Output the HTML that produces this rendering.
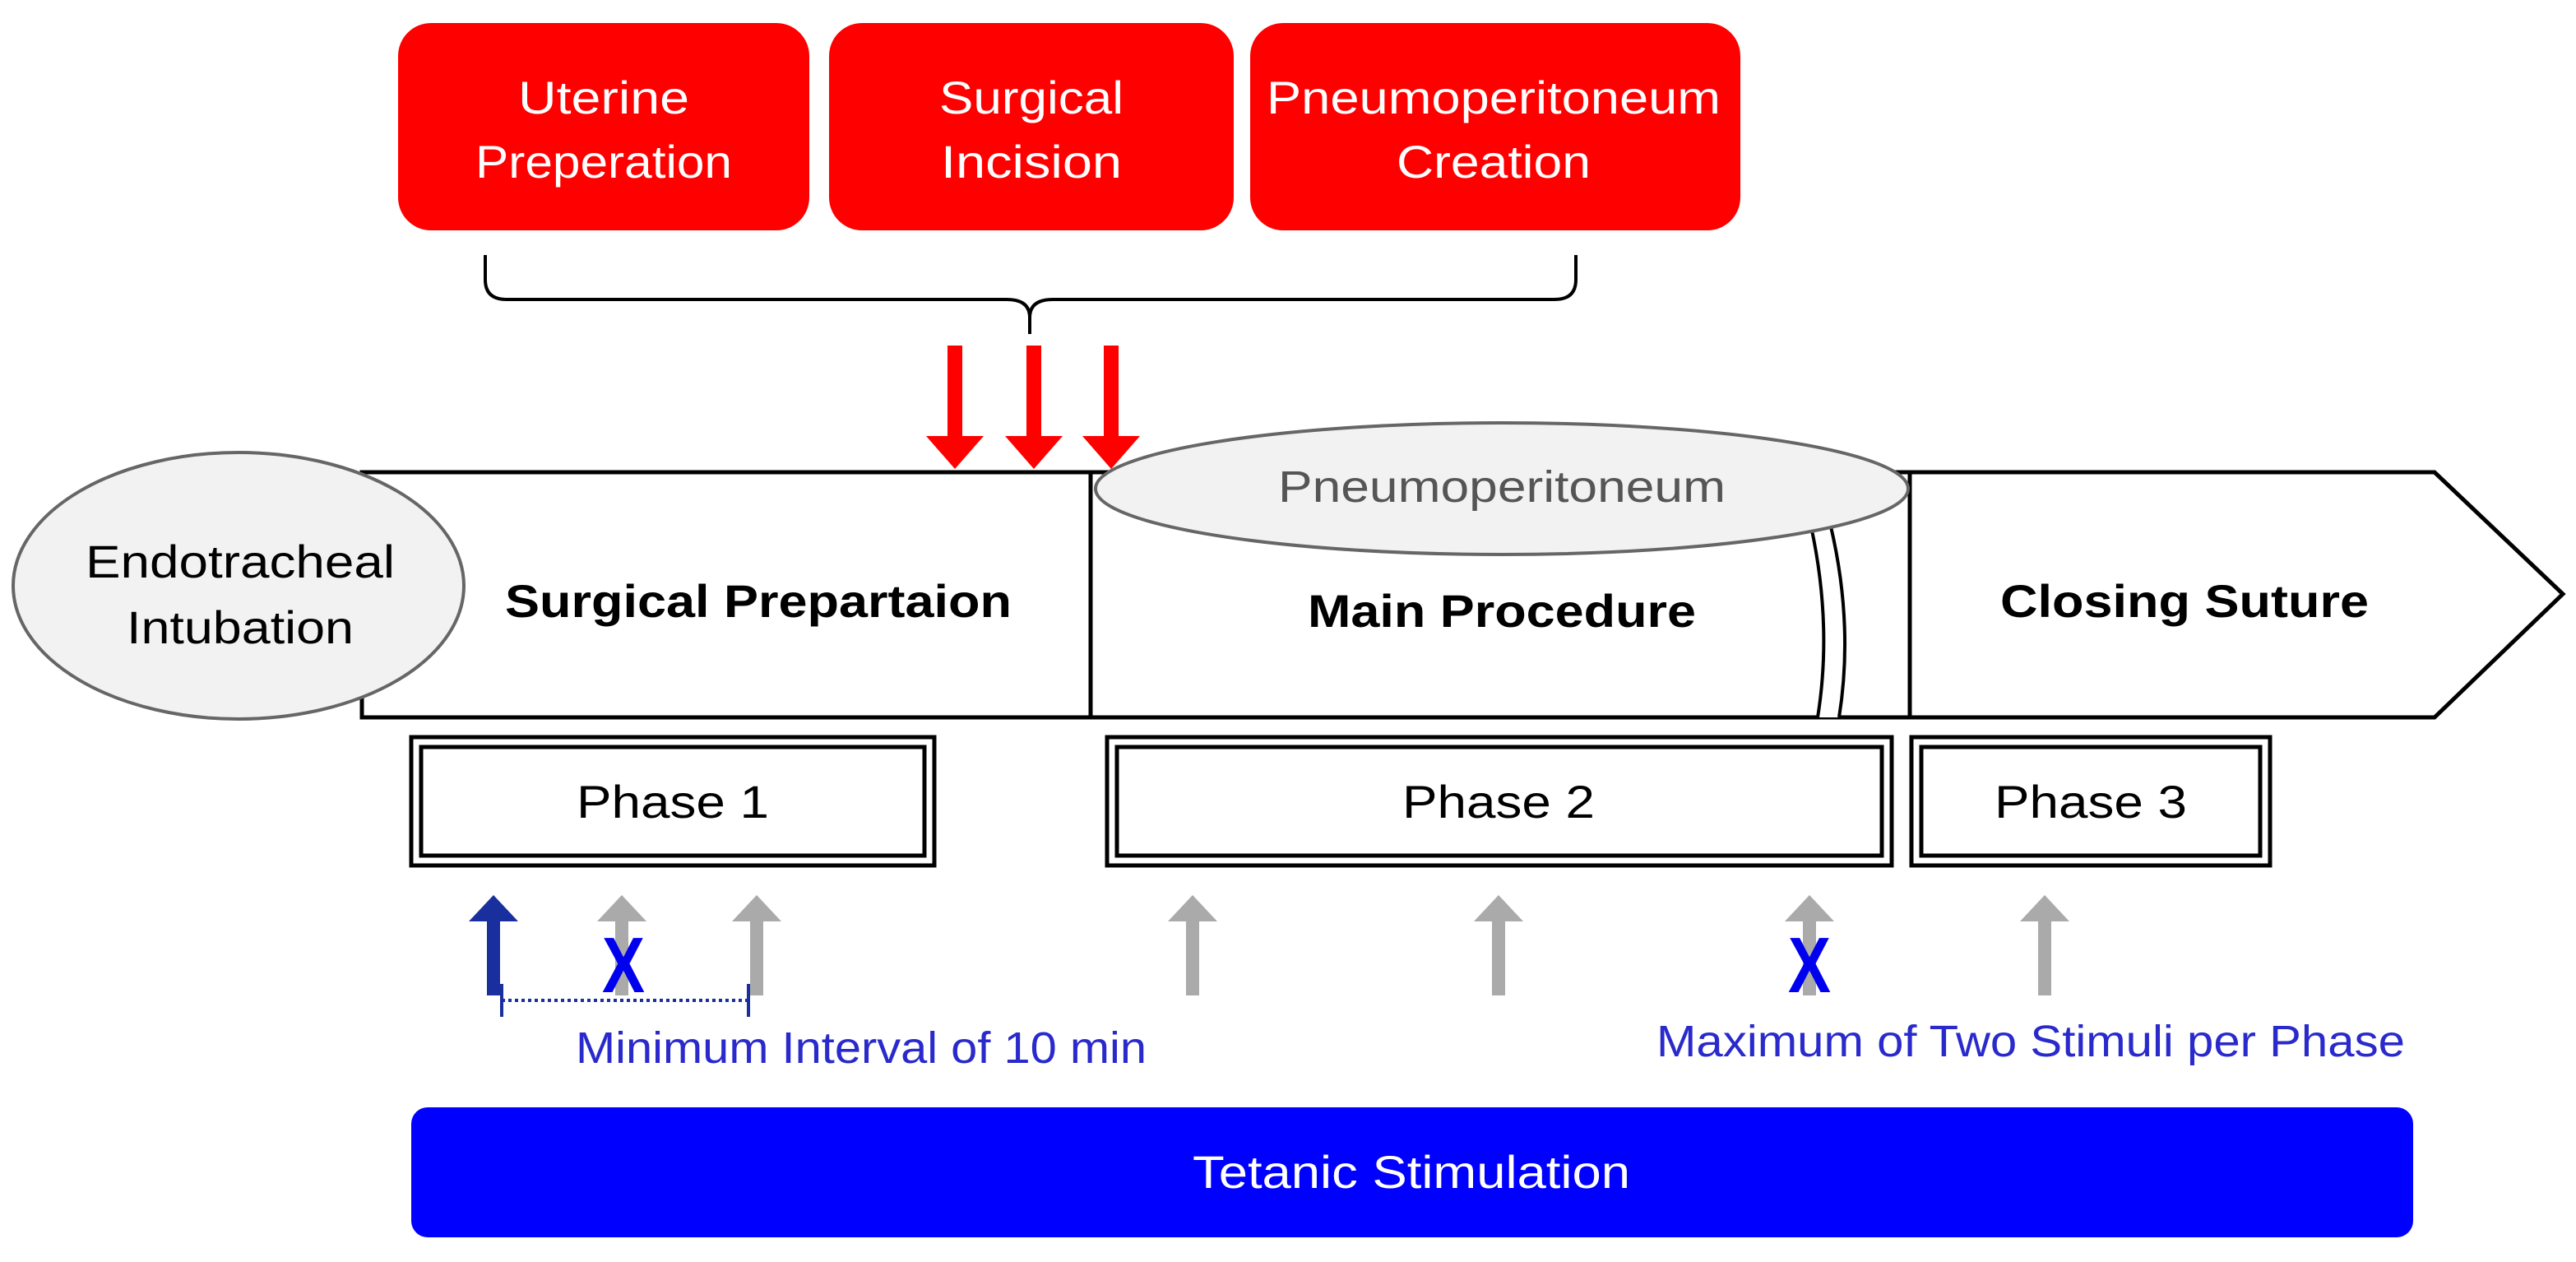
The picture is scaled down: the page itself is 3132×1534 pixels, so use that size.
<!DOCTYPE html>
<html><head><meta charset="utf-8"><style>
html,body{margin:0;padding:0;background:#fff}
svg{display:block}
text{font-family:"Liberation Sans",Arial,sans-serif}
</style></head><body>
<svg width="3132" height="1534" viewBox="0 0 1566 767" xmlns="http://www.w3.org/2000/svg">
<!-- red boxes -->
<rect x="242" y="14" width="250" height="126" rx="20" fill="#ff0000"/>
<rect x="504" y="14" width="246" height="126" rx="20" fill="#ff0000"/>
<rect x="760" y="14" width="298" height="126" rx="20" fill="#ff0000"/>
<g fill="#fff" font-size="28" text-anchor="middle">
<text x="367" y="69" textLength="104" lengthAdjust="spacingAndGlyphs">Uterine</text>
<text x="367" y="108" textLength="156" lengthAdjust="spacingAndGlyphs">Preperation</text>
<text x="627" y="69" textLength="112" lengthAdjust="spacingAndGlyphs">Surgical</text>
<text x="627" y="108" textLength="110" lengthAdjust="spacingAndGlyphs">Incision</text>
<text x="908" y="69" textLength="276" lengthAdjust="spacingAndGlyphs">Pneumoperitoneum</text>
<text x="908" y="108" textLength="118" lengthAdjust="spacingAndGlyphs">Creation</text>
</g>
<!-- brace -->
<path d="M295,155 L295,170 Q295,182 308,182 L612,182 Q626,182 626,193 Q626,182 640,182 L945,182 Q958,182 958,170 L958,155 M626,193 L626,203" fill="none" stroke="#000" stroke-width="2"/>
<!-- red arrows -->
<g fill="#ff0000">
<path d="M576,210h9v55h13l-17.5,20l-17.5,-20h13z"/>
<path d="M624,210h9v55h13l-17.5,20l-17.5,-20h13z"/>
<path d="M671,210h9v55h13l-17.5,20l-17.5,-20h13z"/>
</g>
<!-- main bar -->
<rect x="220" y="287" width="443" height="149" fill="#fff" stroke="#000" stroke-width="2.5"/>
<path d="M663,287 L1161,287 L1161,436 L663,436 Z" fill="#fff" stroke="#000" stroke-width="2.5"/>
<path d="M1161,287 L1480,287 L1558,361 L1480,436 L1161,436 Z" fill="#fff" stroke="#000" stroke-width="2.5"/>
<!-- break -->
<path d="M1101,320 Q1114,380 1105,436 L1118,436 Q1127,380 1113,320 Z" fill="#fff" stroke="none"/>
<path d="M1101,320 Q1114,380 1105,436 M1113,320 Q1127,380 1118,436" fill="none" stroke="#000" stroke-width="2"/>
<!-- ellipses -->
<ellipse cx="913" cy="297" rx="247" ry="40" fill="#f2f2f2" stroke="#666" stroke-width="2"/>
<text x="913" y="305" font-size="27" fill="#555" text-anchor="middle" textLength="272" lengthAdjust="spacingAndGlyphs">Pneumoperitoneum</text>
<ellipse cx="145" cy="356" rx="137" ry="81" fill="#f2f2f2" stroke="#666" stroke-width="2"/>
<g font-size="28" fill="#000" text-anchor="middle">
<text x="146" y="351" textLength="188" lengthAdjust="spacingAndGlyphs">Endotracheal</text>
<text x="146" y="391" textLength="138" lengthAdjust="spacingAndGlyphs">Intubation</text>
</g>
<g font-size="28" font-weight="bold" fill="#000" text-anchor="middle">
<text x="461" y="375" textLength="308" lengthAdjust="spacingAndGlyphs">Surgical Prepartaion</text>
<text x="913" y="381" textLength="236" lengthAdjust="spacingAndGlyphs">Main Procedure</text>
<text x="1328" y="375" textLength="224" lengthAdjust="spacingAndGlyphs">Closing Suture</text>
</g>
<!-- phase boxes -->
<g fill="none" stroke="#000">
<rect x="250" y="448" width="318" height="78" stroke-width="2.5"/>
<rect x="256" y="454" width="306" height="66" stroke-width="2.5"/>
<rect x="673" y="448" width="477" height="78" stroke-width="2.5"/>
<rect x="679" y="454" width="465" height="66" stroke-width="2.5"/>
<rect x="1162" y="448" width="218" height="78" stroke-width="2.5"/>
<rect x="1168" y="454" width="206" height="66" stroke-width="2.5"/>
</g>
<g font-size="28" fill="#000" text-anchor="middle">
<text x="409" y="497" textLength="117" lengthAdjust="spacingAndGlyphs">Phase 1</text>
<text x="911" y="497" textLength="117" lengthAdjust="spacingAndGlyphs">Phase 2</text>
<text x="1271" y="497" textLength="117" lengthAdjust="spacingAndGlyphs">Phase 3</text>
</g>
<!-- up arrows -->
<path d="M296,605v-45h-11l15,-16l15,16h-11v45z" fill="#1a2f9e"/>
<g fill="#aaaaaa">
<path d="M374,605v-45h-11l15,-16l15,16h-11v45z"/>
<path d="M456,605v-45h-11l15,-16l15,16h-11v45z"/>
<path d="M721,605v-45h-11l15,-16l15,16h-11v45z"/>
<path d="M907,605v-45h-11l15,-16l15,16h-11v45z"/>
<path d="M1096,605v-45h-11l15,-16l15,16h-11v45z"/>
<path d="M1239,605v-45h-11l15,-16l15,16h-11v45z"/>
</g>
<g font-size="48" font-weight="bold" fill="#0000ee" text-anchor="middle">
<text x="379" y="603" textLength="26" lengthAdjust="spacingAndGlyphs">X</text>
<text x="1100" y="603" textLength="26" lengthAdjust="spacingAndGlyphs">X</text>
</g>
<!-- interval -->
<path d="M305,608 H455" stroke="#1a2f9e" stroke-width="2" stroke-dasharray="2,2"/>
<path d="M305,598V618 M455,598V618" stroke="#1a2f9e" stroke-width="2"/>
<g font-size="27" fill="#2a2acc">
<text x="350" y="646" textLength="347" lengthAdjust="spacingAndGlyphs">Minimum Interval of 10 min</text>
<text x="1007" y="642" textLength="455" lengthAdjust="spacingAndGlyphs">Maximum of Two Stimuli per Phase</text>
</g>
<!-- tetanic -->
<rect x="250" y="673" width="1217" height="79" rx="10" fill="#0000ff"/>
<text x="858" y="722" font-size="28" fill="#fff" text-anchor="middle" textLength="266" lengthAdjust="spacingAndGlyphs">Tetanic Stimulation</text>
</svg>
</body></html>
